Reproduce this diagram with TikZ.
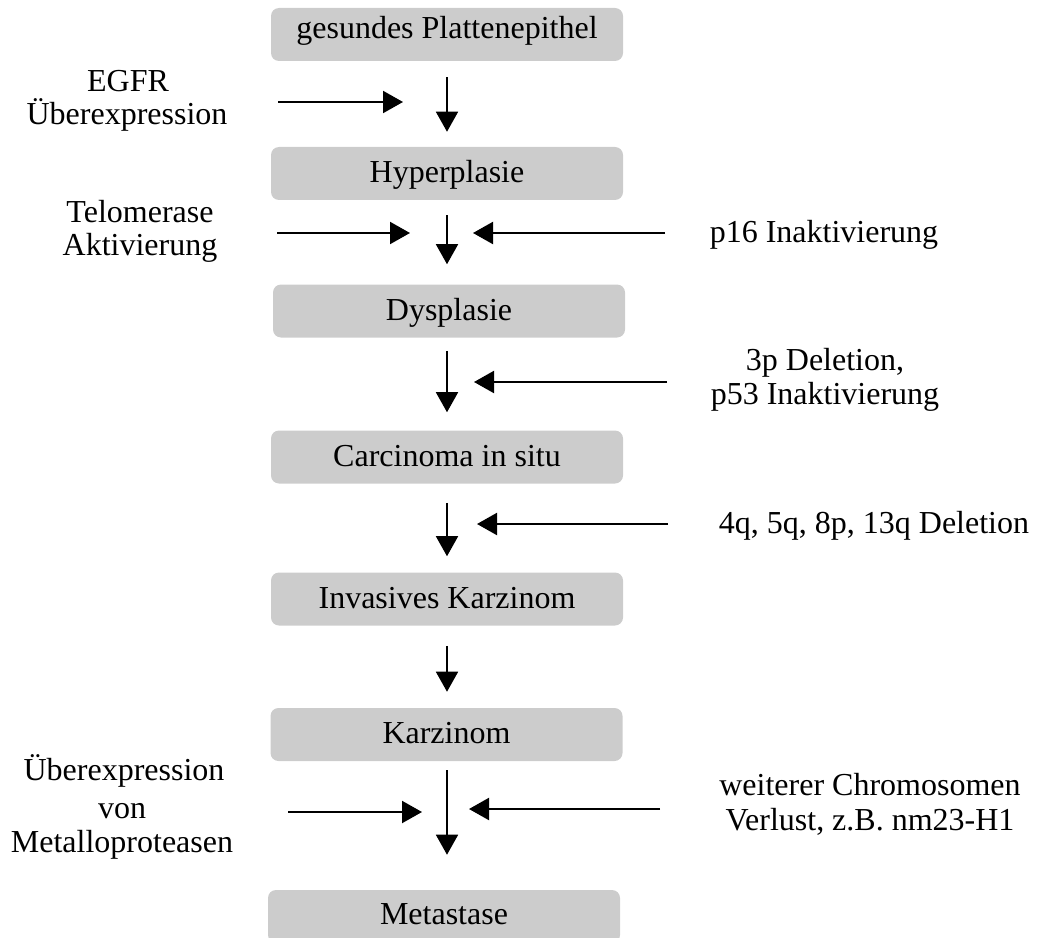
\documentclass[tikz,border=0pt]{standalone}
\usepackage{fontspec}
\setmainfont{Liberation Serif}
\usetikzlibrary{arrows.meta}
\begin{document}
\begin{tikzpicture}[x=0.75pt,y=-0.75pt,
  stage/.style={fill=black!20, rounded corners=6pt, minimum width=264pt, minimum height=39.75pt,
    inner sep=0pt, text height=18pt, text depth=4pt, font=\fontsize{24}{28}\selectfont},
  lbl/.style={anchor=base, inner sep=0pt, font=\fontsize{24}{28}\selectfont},
  flow/.style={line width=1.2pt, -{Triangle[length=15pt,width=16.5pt]}},
  side/.style={line width=1.6pt, -{Triangle[length=15pt,width=16.5pt]}}]
\useasboundingbox (0,0) rectangle (1042,938);

% stages
\node[stage, text height=13pt, text depth=6.25pt] (b1) at (447,34.5) {gesundes Plattenepithel};
\node[stage] (b2) at (447,173.5) {Hyperplasie};
\node[stage] (b3) at (449,311) {Dysplasie};
\node[stage] (b4) at (447,457) {Carcinoma in situ};
\node[stage] (b5) at (447,599) {Invasives Karzinom};
\node[stage] (b6) at (446.5,734.5) {Karzinom};
\node[stage, text height=17pt, text depth=5pt] (b7) at (444,916.5) {Metastase};

\coordinate (ax) at (447,0);

% main flow
\draw[flow, shorten <=12pt, shorten >=11.25pt] (b1.south -| ax) -- (b2.north -| ax);
\draw[flow, shorten <=11.25pt, shorten >=15pt] (b2.south -| ax) -- (b3.north -| ax);
\draw[flow, shorten <=9.75pt, shorten >=13.5pt] (b3.south -| ax) -- (b4.north -| ax);
\draw[flow, shorten <=14.25pt, shorten >=12pt] (b4.south -| ax) -- (b5.north -| ax);
\draw[flow, shorten <=15pt, shorten >=12pt] (b5.south -| ax) -- (b6.north -| ax);
\draw[flow, shorten <=6.75pt, shorten >=26.25pt] (b6.south -| ax) -- (b7.north -| ax);

% labels left
\node[lbl] (l1a) at (128,92) {EGFR};
\node[lbl] (l1b) at (127,125) {Überexpression};
\node[lbl] (l2a) at (140,223) {Telomerase};
\node[lbl] (l2b) at (140,255) {Aktivierung};
\node[lbl] (l6a) at (124,780) {Überexpression};
\node[lbl] (l6b) at (122,818) {von};
\node[lbl] (l6c) at (122,852) {Metalloproteasen};

% labels right
\node[lbl] (r2) at (824,242) {p16 Inaktivierung};
\node[lbl] (r3a) at (825,370) {3p Deletion,};
\node[lbl] (r3b) at (825,404) {p53 Inaktivierung};
\node[lbl] (r4) at (874,533) {4q, 5q, 8p, 13q Deletion};
\node[lbl] (r6a) at (870,795) {weiterer Chromosomen};
\node[lbl] (r6b) at (870,830) {Verlust, z.B. nm23-H1};

% side arrow end points
\coordinate (h1s) at (278,102);  \coordinate (h1e) at (403,102);
\coordinate (h2s) at (277,233);  \coordinate (h2e) at (410,233);
\coordinate (k2s) at (665,233);  \coordinate (k2e) at (473,233);
\coordinate (k3s) at (667,382);  \coordinate (k3e) at (474,382);
\coordinate (k4s) at (668,524);  \coordinate (k4e) at (477,524);
\coordinate (h6s) at (288,812);  \coordinate (h6e) at (422,812);
\coordinate (k6s) at (660,809);  \coordinate (k6e) at (469,809);

\draw[side] (h1s) -- (h1e);
\draw[side] (h2s) -- (h2e);
\draw[side] (k2s) -- (k2e);
\draw[side] (k3s) -- (k3e);
\draw[side] (k4s) -- (k4e);
\draw[side] (h6s) -- (h6e);
\draw[side] (k6s) -- (k6e);
\end{tikzpicture}
\end{document}
